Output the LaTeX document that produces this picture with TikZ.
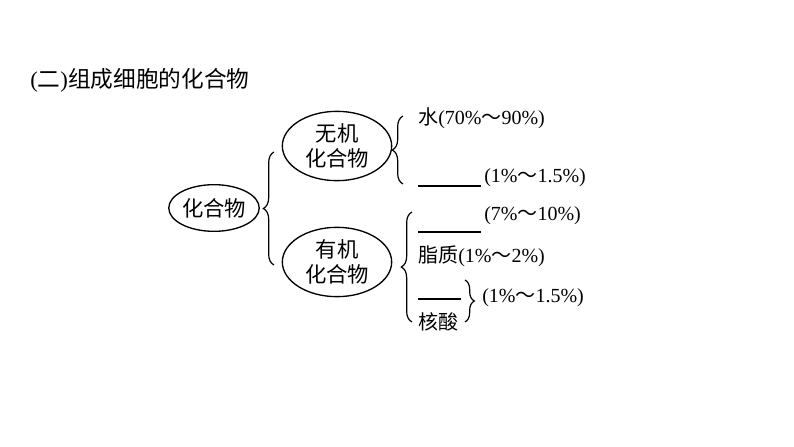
\documentclass[tikz,border=0pt]{standalone}
\usepackage{fontspec}
\setmainfont{Liberation Serif}
\newfontfamily\cjk{Noto Sans CJK SC}
\usetikzlibrary{shapes.geometric,decorations.pathreplacing}
\tikzset{
 oval/.style={ellipse,draw,line width=1pt,inner sep=0pt,font=\cjk\fontsize{16}{19}\selectfont,align=center},
 brc/.style={draw,line width=0.9pt,decorate,decoration={brace,amplitude=8pt}},
 txt/.style={anchor=west,inner sep=0pt,font=\fontsize{15}{18}\selectfont},
 blank/.style={line width=0.9pt}
}
\begin{document}
\begin{tikzpicture}[x=0.75pt,y=-0.75pt]
\useasboundingbox (0,0) rectangle (794,447);
\node[txt,font=\fontsize{17}{20}\selectfont] (title) at (30,80) {({\cjk 二}){\cjk 组成细胞的化合物}};
\node[oval,minimum width=66pt,minimum height=35pt] (root) at (214,208) {化合物};
\node[oval,minimum width=82pt,minimum height=52pt] (inorg) at (337,146) {无机\\化合物};
\node[oval,minimum width=82pt,minimum height=52pt] (org) at (337,262) {有机\\化合物};
\coordinate (b1t) at (274,152); \coordinate (b1b) at (274,265);
\draw[brc] (b1b) -- (b1t);
\coordinate (b2t) at (403,116); \coordinate (b2b) at (403,184);
\draw[brc] (b2b) -- (b2t);
\coordinate (b3t) at (412,212); \coordinate (b3b) at (412,322);
\draw[brc] (b3b) -- (b3t);
\coordinate (b4t) at (465,280); \coordinate (b4b) at (465,322);
\draw[brc,decoration={brace,amplitude=7pt}] (b4t) -- (b4b);
\node[txt] (w) at (418,118) {{\cjk 水}(70\%{\cjk ～}90\%)};
\coordinate (l1a) at (418,186); \coordinate (l1b) at (481,186);
\draw[blank] (l1a) -- (l1b);
\node[txt] (t1) at (484,178) {(1\%{\cjk ～}1.5\%)};
\coordinate (l2a) at (418,232); \coordinate (l2b) at (481,232);
\draw[blank] (l2a) -- (l2b);
\node[txt] (t2) at (484,216) {(7\%{\cjk ～}10\%)};
\node[txt] (lip) at (418,256) {{\cjk 脂质}(1\%{\cjk ～}2\%)};
\coordinate (l3a) at (418,299); \coordinate (l3b) at (461,299);
\draw[blank] (l3a) -- (l3b);
\node[txt] (hs) at (418,322) {{\cjk 核酸}};
\node[txt] (t3) at (482,298) {(1\%{\cjk ～}1.5\%)};
\end{tikzpicture}
\end{document}
